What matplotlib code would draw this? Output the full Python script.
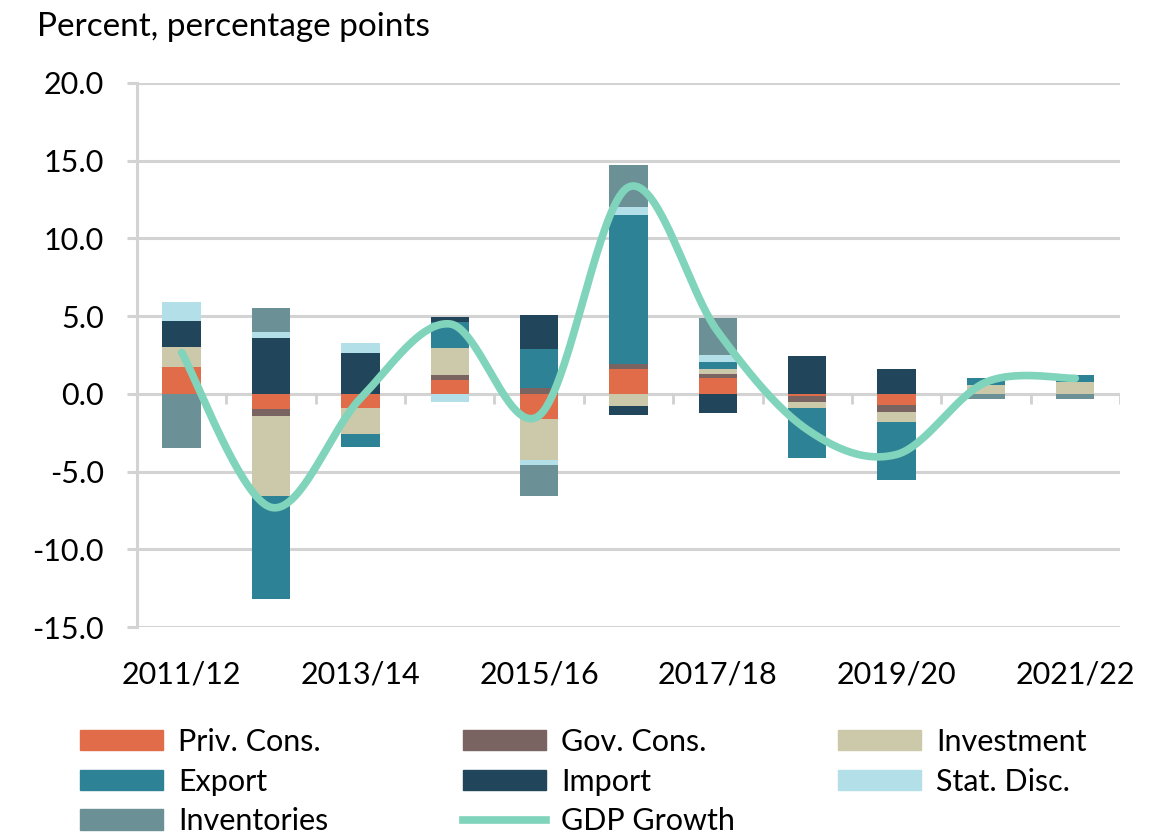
import numpy as np
import matplotlib.pyplot as plt
from matplotlib.patches import Patch
from matplotlib.lines import Line2D

plt.rcParams['font.family'] = ['Lato', 'DejaVu Sans']

# data (percentage point contributions)
years = ['2011/12', '2012/13', '2013/14', '2014/15', '2015/16', '2016/17',
         '2017/18', '2018/19', '2019/20', '2020/21', '2021/22']
priv_cons = [1.7, -0.95, -0.9, 0.9, -1.6, 1.6, 1.0, -0.15, -0.7, 0.0, 0.0]
gov_cons = [0.0, -0.45, 0.0, 0.3, 0.4, 0.35, 0.3, -0.4, -0.45, 0.0, 0.0]
investment = [1.3, -5.2, -1.7, 1.75, -2.65, -0.8, 0.3, -0.35, -0.65, 0.55, 0.75]
export = [0.0, -6.6, -0.85, 1.65, 2.5, 9.55, 0.45, -3.2, -3.75, 0.45, 0.45]
imports = [1.7, 3.6, 2.6, 0.35, 2.2, -0.55, -1.2, 2.45, 1.6, 0.0, 0.0]
stat_disc = [1.2, 0.4, 0.7, -0.5, -0.35, 0.5, 0.45, 0.0, 0.0, 0.0, 0.0]
inventories = [-3.5, 1.5, 0.0, 0.0, -1.95, 2.7, 2.4, 0.0, 0.0, -0.3, -0.3]
gdp_growth = [2.65, -7.3, -0.3, 4.5, -1.4, 13.3, 4.0, -2.3, -3.9, 0.75, 1.0]

series = [
    ('Priv. Cons.', priv_cons, '#e06c4a'),
    ('Gov. Cons.', gov_cons, '#7a6462'),
    ('Investment', investment, '#cbc9aa'),
    ('Export', export, '#2e8296'),
    ('Import', imports, '#21455a'),
    ('Stat. Disc.', stat_disc, '#b3e0e8'),
    ('Inventories', inventories, '#6b9095'),
]
line_color = '#80d4bb'


# Excel-like smoothed line (Catmull-Rom through the points)
def smooth(x, y, n=40):
    x = np.asarray(x, float)
    y = np.asarray(y, float)
    px = np.concatenate([[x[0]], x, [x[-1]]])
    py = np.concatenate([[y[0]], y, [y[-1]]])
    xs, ys = [], []
    for i in range(1, len(px) - 2):
        p0 = np.array([px[i], py[i]])
        p3 = np.array([px[i + 1], py[i + 1]])
        c1 = p0 + (np.array([px[i + 1], py[i + 1]]) - np.array([px[i - 1], py[i - 1]])) / 6
        c2 = p3 - (np.array([px[i + 2], py[i + 2]]) - np.array([px[i], py[i]])) / 6
        t = np.linspace(0, 1, n)[:, None]
        b = ((1 - t) ** 3) * p0 + 3 * ((1 - t) ** 2) * t * c1 + 3 * (1 - t) * t ** 2 * c2 + t ** 3 * p3
        xs.append(b[:, 0])
        ys.append(b[:, 1])
    return np.concatenate(xs), np.concatenate(ys)


fig = plt.figure(figsize=(11.66, 8.34), dpi=100)
ax = fig.add_axes([0.1175, 0.2482, 0.843, 0.6523])

x = np.arange(len(years))
pos_bottom = np.zeros(len(years))
neg_bottom = np.zeros(len(years))
for name, vals, color in series:
    v = np.array(vals)
    bottom = np.where(v >= 0, pos_bottom, neg_bottom)
    ax.bar(x, v, width=0.43, bottom=bottom, color=color, zorder=3)
    pos_bottom += np.where(v >= 0, v, 0)
    neg_bottom += np.where(v < 0, v, 0)

sx, sy = smooth(x, gdp_growth)
ax.plot(sx, sy, color=line_color, lw=5.5, solid_capstyle='round', zorder=4)

# small category tick marks on the zero line
ax.vlines(np.arange(0.5, len(years), 1), -0.65, 0, color='#d0d0d0', lw=2, zorder=2)

ax.set_xlim(-0.5, len(years) - 0.5)
ax.set_ylim(-15, 20)
ax.set_yticks(np.arange(-15, 21, 5))
ax.set_yticklabels([f'{v:.1f}' for v in np.arange(-15, 21, 5)])
ax.set_xticks(x[::2])
ax.set_xticklabels(years[::2])
ax.grid(axis='y', color='#d3d3d3', lw=2.2, zorder=1)
for s in ['top', 'right', 'bottom']:
    ax.spines[s].set_visible(False)
ax.spines['left'].set_color('#d3d3d3')
ax.spines['left'].set_linewidth(2.2)
ax.tick_params(axis='y', length=7, width=2.2, color='#d3d3d3', labelsize=22, pad=17)
ax.tick_params(axis='x', length=0, labelsize=22, pad=24)

fig.text(0.032, 0.968, 'Percent, percentage points', fontsize=24, va='center', ha='left')

# legend, three columns placed like the original
handles = {name: Patch(color=color) for name, vals, color in series}
handles['GDP Growth'] = Line2D([], [], color=line_color, lw=5.5)
columns = [
    (['Priv. Cons.', 'Export', 'Inventories'], 80),
    (['Gov. Cons.', 'Import', 'GDP Growth'], 463),
    (['Investment', 'Stat. Disc.'], 838),
]
for names, xpix in columns:
    fig.legend([handles[n] for n in names], names, loc='upper left',
               bbox_to_anchor=(xpix / 1166, 1 - 728 / 834), frameon=False,
               fontsize=22, handlelength=2.7, handleheight=0.65, handletextpad=0.5,
               labelspacing=0.38, borderpad=0, borderaxespad=0)

fig.savefig('out.png', dpi=100)
